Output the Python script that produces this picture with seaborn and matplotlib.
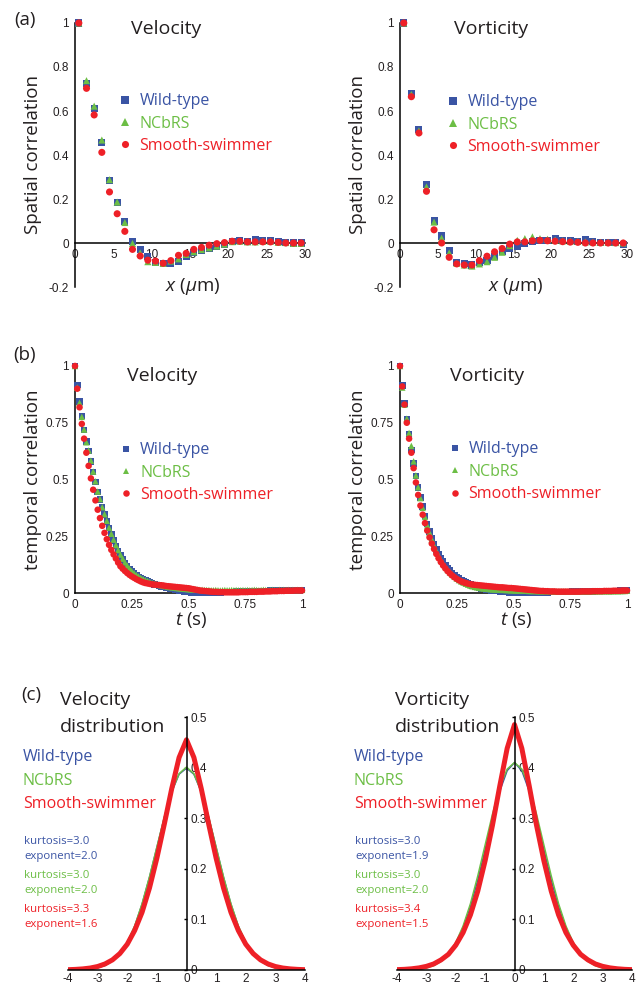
import numpy as np
import pandas as pd
import matplotlib
matplotlib.use("Agg")
import matplotlib.pyplot as plt
import seaborn as sns

# ---------------- data ----------------
STRAINS = ["Wild-type", "NCbRS", "Smooth-swimmer"]
PALETTE = {"Wild-type": "#3a54a4", "NCbRS": "#6cbe45", "Smooth-swimmer": "#ee2027"}
MARKERS = {"Wild-type": "s", "NCbRS": "^", "Smooth-swimmer": "o"}

# (a) spatial correlation vs distance (um)
dist_um = np.arange(30) + 0.5
sp_vel_wt = [1.0, 0.726, 0.612, 0.458, 0.285, 0.186, 0.097, 0.005, -0.028, -0.062, -0.088, -0.092, -0.093, -0.085, -0.062, -0.042, -0.033, -0.024, -0.014, -0.006, 0.006, 0.010, 0.006, 0.016, 0.013, 0.010, 0.006, 0.003, 0.0, 0.0]
sp_vel_nc = [1.0, 0.738, 0.622, 0.468, 0.288, 0.186, 0.093, -0.002, -0.045, -0.085, -0.088, -0.093, -0.082, -0.072, -0.052, -0.040, -0.030, -0.022, -0.014, -0.005, 0.006, 0.008, 0.005, 0.005, 0.008, 0.008, 0.003, 0.002, -0.002, -0.002]
sp_vel_ss = [1.0, 0.703, 0.582, 0.412, 0.232, 0.133, 0.053, -0.029, -0.059, -0.078, -0.082, -0.092, -0.080, -0.056, -0.047, -0.029, -0.020, -0.010, -0.003, 0.002, 0.008, 0.008, 0.005, 0.005, 0.005, 0.005, 0.003, 0.0, 0.0, 0.0]
sp_vor_wt = [1.0, 0.680, 0.515, 0.265, 0.100, 0.032, -0.035, -0.090, -0.095, -0.100, -0.090, -0.078, -0.062, -0.040, -0.025, -0.015, -0.003, 0.005, 0.010, 0.012, 0.018, 0.012, 0.010, 0.008, 0.015, 0.005, 0.003, 0.003, 0.002, -0.005]
sp_vor_nc = [1.0, 0.675, 0.510, 0.255, 0.095, 0.022, -0.045, -0.092, -0.100, -0.105, -0.095, -0.085, -0.065, -0.042, -0.012, 0.012, 0.020, 0.028, 0.020, 0.017, 0.013, 0.010, 0.008, 0.007, 0.005, 0.004, 0.003, 0.003, 0.002, 0.0]
sp_vor_ss = [1.0, 0.665, 0.500, 0.235, 0.060, 0.000, -0.065, -0.095, -0.100, -0.100, -0.080, -0.060, -0.040, -0.025, -0.005, 0.005, 0.005, 0.010, 0.012, 0.010, 0.008, 0.006, 0.004, 0.003, 0.000, 0.000, 0.000, 0.000, 0.000, 0.000]

# (b) temporal correlation vs lag (s)
lag_s = np.arange(101) / 100
tm_vel_wt = [1.000, 0.916, 0.843, 0.780, 0.718, 0.668, 0.625, 0.580, 0.532, 0.490,
             0.445, 0.412, 0.376, 0.345, 0.316, 0.286, 0.258, 0.232, 0.208, 0.186,
             0.166, 0.148, 0.132, 0.118, 0.106, 0.095, 0.086, 0.078, 0.071, 0.065,
             0.060, 0.055, 0.050, 0.046, 0.042, 0.038, 0.035, 0.032, 0.029, 0.026,
             0.023, 0.021, 0.019, 0.017, 0.015, 0.013, 0.011, 0.009, 0.007, 0.005,
             0.004, 0.003, 0.002, 0.002, 0.001, 0.001, 0.000, 0.000, 0.001, 0.001,
             0.002, 0.002, 0.003, 0.003, 0.003, 0.004, 0.004, 0.004, 0.005, 0.005,
             0.005, 0.006, 0.006, 0.006, 0.007, 0.007, 0.007, 0.007, 0.008, 0.008,
             0.008, 0.008, 0.009, 0.009, 0.009, 0.009, 0.010, 0.010, 0.010, 0.010,
             0.010, 0.011, 0.011, 0.011, 0.011, 0.012, 0.012, 0.012, 0.012, 0.012, 0.013]
tm_vel_nc = [1.000, 0.905, 0.838, 0.776, 0.720, 0.664, 0.628, 0.583, 0.535, 0.492,
             0.447, 0.414, 0.378, 0.347, 0.318, 0.288, 0.261, 0.235, 0.211, 0.189,
             0.169, 0.151, 0.135, 0.121, 0.108, 0.097, 0.088, 0.080, 0.073, 0.067,
             0.062, 0.057, 0.053, 0.049, 0.045, 0.042, 0.039, 0.036, 0.034, 0.032,
             0.030, 0.028, 0.026, 0.025, 0.024, 0.022, 0.021, 0.020, 0.019, 0.018,
             0.017, 0.016, 0.016, 0.015, 0.015, 0.014, 0.014, 0.013, 0.013, 0.013,
             0.012, 0.012, 0.013, 0.012, 0.011, 0.012, 0.013, 0.012, 0.012, 0.013,
             0.012, 0.013, 0.012, 0.012, 0.013, 0.012, 0.013, 0.012, 0.013, 0.014,
             0.013, 0.012, 0.013, 0.014, 0.013, 0.012, 0.013, 0.014, 0.013, 0.013,
             0.014, 0.013, 0.014, 0.013, 0.014, 0.013, 0.014, 0.013, 0.014, 0.013, 0.014]
tm_vel_ss = [1.000, 0.900, 0.818, 0.745, 0.680, 0.618, 0.560, 0.505, 0.455, 0.408,
             0.367, 0.330, 0.296, 0.265, 0.237, 0.212, 0.190, 0.170, 0.152, 0.134,
             0.118, 0.107, 0.097, 0.088, 0.080, 0.073, 0.067, 0.061, 0.056, 0.051,
             0.047, 0.044, 0.042, 0.040, 0.038, 0.037, 0.036, 0.035, 0.034, 0.033,
             0.031, 0.030, 0.029, 0.028, 0.027, 0.026, 0.025, 0.024, 0.023, 0.022,
             0.021, 0.019, 0.017, 0.015, 0.013, 0.011, 0.010, 0.009, 0.008, 0.007,
             0.006, 0.005, 0.005, 0.004, 0.004, 0.004, 0.003, 0.003, 0.003, 0.003,
             0.003, 0.003, 0.003, 0.004, 0.004, 0.004, 0.004, 0.005, 0.005, 0.005,
             0.005, 0.006, 0.006, 0.006, 0.007, 0.007, 0.007, 0.008, 0.008, 0.008,
             0.009, 0.009, 0.009, 0.010, 0.010, 0.010, 0.010, 0.011, 0.011, 0.011, 0.011]
tm_vor_wt = [1.000, 0.915, 0.835, 0.765, 0.700, 0.630, 0.570, 0.515, 0.465, 0.420,
             0.380, 0.340, 0.303, 0.272, 0.243, 0.216, 0.192, 0.172, 0.154, 0.138,
             0.123, 0.110, 0.098, 0.088, 0.079, 0.071, 0.064, 0.057, 0.051, 0.046,
             0.041, 0.037, 0.033, 0.029, 0.026, 0.023, 0.020, 0.018, 0.016, 0.014,
             0.012, 0.010, 0.009, 0.008, 0.007, 0.006, 0.005, 0.004, 0.003, 0.002,
             0.001, 0.001, 0.000, 0.000, 0.000, 0.001, 0.001, 0.001, 0.002, 0.002,
             0.002, 0.002, 0.003, 0.003, 0.003, 0.003, 0.004, 0.004, 0.004, 0.004,
             0.004, 0.005, 0.005, 0.005, 0.005, 0.005, 0.006, 0.006, 0.006, 0.006,
             0.006, 0.007, 0.007, 0.007, 0.007, 0.007, 0.008, 0.008, 0.008, 0.008,
             0.008, 0.008, 0.009, 0.009, 0.009, 0.009, 0.009, 0.010, 0.010, 0.010, 0.010]
tm_vor_nc = [1.000, 0.905, 0.830, 0.768, 0.705, 0.648, 0.580, 0.518, 0.466, 0.418,
             0.375, 0.335, 0.298, 0.266, 0.237, 0.210, 0.186, 0.165, 0.146, 0.130,
             0.115, 0.102, 0.091, 0.081, 0.072, 0.064, 0.057, 0.051, 0.046, 0.041,
             0.037, 0.033, 0.030, 0.027, 0.025, 0.023, 0.021, 0.020, 0.019, 0.018,
             0.017, 0.016, 0.016, 0.015, 0.015, 0.014, 0.014, 0.013, 0.013, 0.012,
             0.012, 0.011, 0.011, 0.011, 0.010, 0.010, 0.010, 0.009, 0.009, 0.009,
             0.009, 0.008, 0.008, 0.008, 0.008, 0.008, 0.007, 0.007, 0.007, 0.007,
             0.007, 0.007, 0.007, 0.007, 0.007, 0.007, 0.007, 0.007, 0.007, 0.007,
             0.007, 0.008, 0.007, 0.008, 0.007, 0.008, 0.007, 0.008, 0.008, 0.008,
             0.008, 0.008, 0.008, 0.008, 0.008, 0.009, 0.008, 0.009, 0.009, 0.009, 0.010]
tm_vor_ss = [1.000, 0.910, 0.830, 0.750, 0.680, 0.618, 0.550, 0.487, 0.432, 0.385,
             0.345, 0.308, 0.275, 0.245, 0.218, 0.194, 0.172, 0.153, 0.136, 0.121,
             0.108, 0.096, 0.086, 0.077, 0.069, 0.062, 0.056, 0.051, 0.047, 0.044,
             0.041, 0.039, 0.037, 0.036, 0.035, 0.034, 0.033, 0.032, 0.031, 0.030,
             0.029, 0.028, 0.027, 0.026, 0.025, 0.025, 0.024, 0.023, 0.022, 0.022,
             0.021, 0.020, 0.019, 0.018, 0.017, 0.016, 0.015, 0.014, 0.013, 0.012,
             0.011, 0.010, 0.009, 0.009, 0.008, 0.008, 0.007, 0.007, 0.007, 0.006,
             0.006, 0.006, 0.006, 0.006, 0.006, 0.006, 0.006, 0.006, 0.006, 0.006,
             0.007, 0.007, 0.007, 0.007, 0.007, 0.008, 0.008, 0.008, 0.008, 0.008,
             0.009, 0.009, 0.009, 0.009, 0.010, 0.010, 0.010, 0.010, 0.011, 0.011, 0.011]

# (c) normalised distributions
pdf_x = np.arange(-16, 17) / 4
pdf_vel_wt = [0.0001, 0.0004, 0.0009, 0.0020, 0.0044, 0.009, 0.018, 0.032, 0.054, 0.086, 0.130, 0.183, 0.242, 0.301, 0.352, 0.387, 0.399,
              0.387, 0.352, 0.301, 0.242, 0.183, 0.130, 0.086, 0.054, 0.032, 0.018, 0.009, 0.0044, 0.0020, 0.0009, 0.0004, 0.0001]
pdf_vel_nc = [0.0001, 0.0004, 0.0010, 0.0021, 0.0046, 0.009, 0.018, 0.033, 0.055, 0.087, 0.131, 0.184, 0.243, 0.302, 0.353, 0.388, 0.401,
              0.388, 0.353, 0.302, 0.243, 0.184, 0.131, 0.087, 0.055, 0.033, 0.018, 0.009, 0.0046, 0.0021, 0.0010, 0.0004, 0.0001]
pdf_vel_ss = [0.0006, 0.0012, 0.0022, 0.0039, 0.0069, 0.012, 0.020, 0.0325, 0.051, 0.078, 0.114, 0.162, 0.221, 0.288, 0.358, 0.420, 0.455,
              0.420, 0.358, 0.288, 0.221, 0.162, 0.114, 0.078, 0.051, 0.0325, 0.020, 0.012, 0.0069, 0.0039, 0.0022, 0.0012, 0.0006]
pdf_vor_wt = [0.0002, 0.0005, 0.0011, 0.0024, 0.0050, 0.0098, 0.018, 0.032, 0.053, 0.084, 0.126, 0.178, 0.2375, 0.299, 0.354, 0.394, 0.410,
              0.394, 0.354, 0.299, 0.2375, 0.178, 0.126, 0.084, 0.053, 0.032, 0.018, 0.0098, 0.0050, 0.0024, 0.0011, 0.0005, 0.0002]
pdf_vor_nc = [0.0001, 0.0003, 0.0007, 0.0018, 0.0040, 0.0085, 0.017, 0.031, 0.054, 0.087, 0.131, 0.186, 0.247, 0.308, 0.361, 0.397, 0.410,
              0.397, 0.361, 0.308, 0.247, 0.186, 0.131, 0.087, 0.054, 0.031, 0.017, 0.0085, 0.0040, 0.0018, 0.0007, 0.0003, 0.0001]
pdf_vor_ss = [0.0007, 0.0013, 0.0024, 0.0042, 0.0072, 0.012, 0.020, 0.031, 0.049, 0.074, 0.109, 0.156, 0.216, 0.286, 0.364, 0.438, 0.485,
              0.438, 0.364, 0.286, 0.216, 0.156, 0.109, 0.074, 0.049, 0.031, 0.020, 0.012, 0.0072, 0.0042, 0.0024, 0.0013, 0.0007]

stats_vel = [("kurtosis=3.0", "exponent=2.0"), ("kurtosis=3.0", "exponent=2.0"), ("kurtosis=3.3", "exponent=1.6")]
stats_vor = [("kurtosis=3.0", "exponent=1.9"), ("kurtosis=3.0", "exponent=2.0"), ("kurtosis=3.4", "exponent=1.5")]

# ---------------- style ----------------
sns.set_theme(style="white")
plt.rcParams["font.family"] = ["Open Sans", "DejaVu Sans"]
plt.rcParams["mathtext.fontset"] = "custom"
plt.rcParams["mathtext.it"] = "Open Sans:italic"
plt.rcParams["mathtext.rm"] = "Open Sans"
plt.rcParams["axes.linewidth"] = 1.1
plt.rcParams["text.color"] = "#231f20"

W, H = 641, 986
fig = plt.figure(figsize=(W / 100, H / 100), dpi=100)


def rect(x0, x1, y_top, y_bot):
    return [x0 / W, 1 - y_bot / H, (x1 - x0) / W, (y_bot - y_top) / H]


def long_df(xv, series):
    return pd.concat([pd.DataFrame({"x": xv, "y": v, "strain": s}) for s, v in zip(STRAINS, series)],
                     ignore_index=True)


TICK_FONT = dict(fontfamily="Liberation Sans", fontsize=8.5, color="#231f20")


def corr_panel(ax, df, s, xlim, xticks, xlabels, ylim, yticks, ylabels, ylabel, xlabel,
               xlabel_y, leg_anchor, zero_spine):
    sns.scatterplot(data=df, x="x", y="y", hue="strain", style="strain", hue_order=STRAINS,
                    style_order=STRAINS, palette=PALETTE, markers=MARKERS, s=s, linewidth=0,
                    ax=ax, legend=True, zorder=3, clip_on=False)
    ax.set_xlim(*xlim)
    ax.set_ylim(*ylim)
    for sp in ["top", "right"]:
        ax.spines[sp].set_visible(False)
    for sp in ["left", "bottom"]:
        ax.spines[sp].set_color("black")
    if zero_spine:
        ax.spines["bottom"].set_position(("data", 0))
    ax.set_xticks(xticks, xlabels, **TICK_FONT)
    ax.set_yticks(yticks, ylabels, **TICK_FONT)
    ax.tick_params(axis="both", length=2.5, width=1, pad=2, direction="out", colors="black",
                   labelcolor="#231f20")
    ax.set_ylabel(ylabel, fontsize=13.5, color="#231f20")
    ax.yaxis.set_label_coords(-0.145, 0.5)
    ax.set_xlabel(xlabel, fontsize=13.5, color="#231f20")
    ax.xaxis.set_label_coords(0.51, xlabel_y)
    sns.move_legend(ax, "upper left", bbox_to_anchor=leg_anchor, frameon=False, title=None,
                    fontsize=11.5, handletextpad=0.38, labelspacing=0.4, borderpad=0,
                    borderaxespad=0, handlelength=1.0)
    leg = ax.get_legend()
    for t, st in zip(leg.get_texts(), STRAINS):
        t.set_color(PALETTE[st])
    ax.patch.set_alpha(0)


# (a)
ax_a1 = fig.add_axes(rect(75, 305, 23, 287))
ax_a2 = fig.add_axes(rect(400, 627, 23, 287))
ya = [-0.2, 0, 0.2, 0.4, 0.6, 0.8, 1]
yal = ["-0.2", "0", "0.2", "0.4", "0.6", "0.8", "1"]
xa = [0, 5, 10, 15, 20, 25, 30]
xal = ["0", "5", "10", "15", "20", "25", "30"]
corr_panel(ax_a1, long_df(dist_um, [sp_vel_wt, sp_vel_nc, sp_vel_ss]), 26, (0, 30), xa, xal,
           (-0.2, 1), ya, yal, "Spatial correlation", r"$x$ ($\mu$m)", 0.04, (0.184, 0.734), True)
corr_panel(ax_a2, long_df(dist_um, [sp_vor_wt, sp_vor_nc, sp_vor_ss]), 26, (0, 30), xa, xal,
           (-0.2, 1), ya, yal, "Spatial correlation", r"$x$ ($\mu$m)", 0.04, (0.2, 0.73), True)

# (b)
ax_b1 = fig.add_axes(rect(75, 302, 366, 593))
ax_b2 = fig.add_axes(rect(400, 627, 366, 593))
yb = [0, 0.25, 0.5, 0.75, 1]
ybl = ["0", "0.25", "0.5", "0.75", "1"]
corr_panel(ax_b1, long_df(lag_s, [tm_vel_wt, tm_vel_nc, tm_vel_ss]), 22, (0, 1), yb, ybl,
           (0, 1), yb, ybl, "temporal correlation", r"$t$ (s)", -0.075, (0.19, 0.664), False)
corr_panel(ax_b2, long_df(lag_s, [tm_vor_wt, tm_vor_nc, tm_vor_ss]), 22, (0, 1), yb, ybl,
           (0, 1), yb, ybl, "temporal correlation", r"$t$ (s)", -0.075, (0.205, 0.668), False)


# (c)
def dist_panel(ax, df):
    sns.lineplot(data=df, x="x", y="y", hue="strain", size="strain", hue_order=STRAINS,
                 size_order=STRAINS, sizes={"Wild-type": 1.1, "NCbRS": 1.1, "Smooth-swimmer": 3.6},
                 palette=PALETTE, estimator=None, sort=False, ax=ax, legend=False)
    ax.set_xlim(-4, 4)
    ax.set_ylim(0, 0.5)
    ax.spines["top"].set_visible(False)
    ax.spines["left"].set_visible(False)
    ax.spines["right"].set_position(("data", 0))
    ax.spines["right"].set_color("black")
    ax.spines["bottom"].set_color("black")
    ax.yaxis.tick_right()
    ax.set_xticks(range(-4, 5), [str(v) for v in range(-4, 5)], **TICK_FONT)
    ax.set_yticks([0, 0.1, 0.2, 0.3, 0.4, 0.5], ["0", "0.1", "0.2", "0.3", "0.4", "0.5"], **TICK_FONT)
    ax.tick_params(axis="y", length=2.5, width=1, pad=3, direction="in", colors="black",
                   labelcolor="#231f20")
    ax.tick_params(axis="x", length=1.5, width=1, pad=0.3, direction="out", colors="black",
                   labelcolor="#231f20")
    ax.set_xlabel("")
    ax.set_ylabel("")
    ax.patch.set_alpha(0)


ax_c1 = fig.add_axes(rect(68, 305, 717, 970))
ax_c2 = fig.add_axes(rect(397, 632, 717, 970))
dist_panel(ax_c1, long_df(pdf_x, [pdf_vel_wt, pdf_vel_nc, pdf_vel_ss]))
dist_panel(ax_c2, long_df(pdf_x, [pdf_vor_wt, pdf_vor_nc, pdf_vor_ss]))


def ftext(px, py, s, **kw):
    fig.text(px / W, 1 - py / H, s, **kw)


# panel letters and titles
for lab, (px, py) in {"(a)": (25, 20), "(b)": (25, 355), "(c)": (31, 695)}.items():
    ftext(px, py, lab, fontsize=13.5, ha="center", va="center")
ftext(166, 29, "Velocity", fontsize=14, ha="center", va="center")
ftext(491, 29, "Vorticity", fontsize=14, ha="center", va="center")
ftext(162, 376, "Velocity", fontsize=14, ha="center", va="center")
ftext(487, 376, "Vorticity", fontsize=14, ha="center", va="center")

# (c) titles, legend text, statistics
for x_title, x_leg, title, stats in [(60, 23, "Velocity\ndistribution", stats_vel),
                                     (395, 354, "Vorticity\ndistribution", stats_vor)]:
    ftext(x_title, 700, title.split("\n")[0], fontsize=14, ha="left", va="center")
    ftext(x_title, 727, title.split("\n")[1], fontsize=14, ha="left", va="center")
    for st, yy in zip(STRAINS, [757, 781, 804]):
        ftext(x_leg, yy, st, fontsize=11.5, ha="left", va="center", color=PALETTE[st])
    for st, (k, e), yy in zip(STRAINS, stats, [841, 875, 909]):
        ftext(x_leg + 1, yy, k, fontsize=8.2, ha="left", va="center", color=PALETTE[st])
        ftext(x_leg + 1, yy + 15.5, e, fontsize=8.2, ha="left", va="center", color=PALETTE[st])

fig.savefig("out.png", dpi=100)
